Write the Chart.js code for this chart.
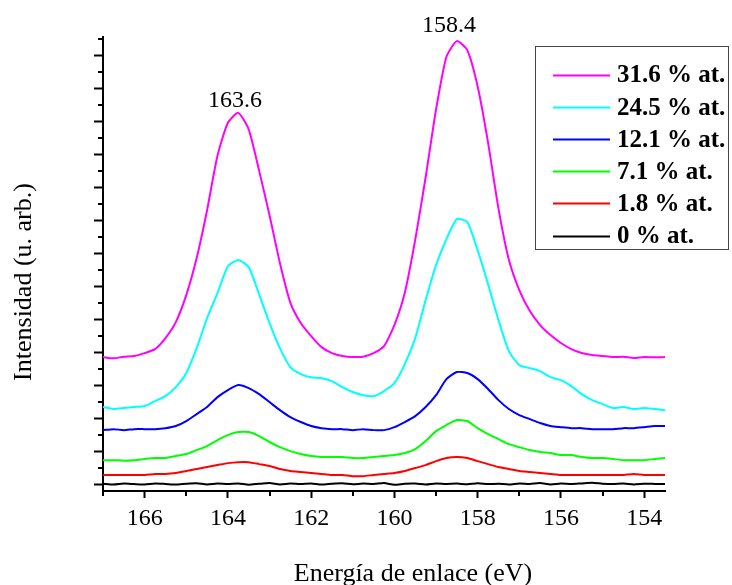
<!DOCTYPE html>
<html lang="es">
<head>
    <meta charset="UTF-8">
    <title>Espectros XPS</title>
    <style>
        body {
            margin: 0;
            background-color: #fff;
        }
        #chart {
            display: block;
        }
    </style>
</head>
<body>

<canvas id="chart" width="732" height="585"></canvas>

<script src="https://cdn.jsdelivr.net/npm/chart.js"></script>
<script>
    // binding energy (eV), one point every 0.25 eV
    const energy = [167.00, 166.75, 166.50, 166.25, 166.00, 165.75, 165.50, 165.25, 165.00, 164.75,
        164.50, 164.25, 164.00, 163.75, 163.50, 163.25, 163.00, 162.75, 162.50, 162.25,
        162.00, 161.75, 161.50, 161.25, 161.00, 160.75, 160.50, 160.25, 160.00, 159.75,
        159.50, 159.25, 159.00, 158.75, 158.50, 158.25, 158.00, 157.75, 157.50, 157.25,
        157.00, 156.75, 156.50, 156.25, 156.00, 155.75, 155.50, 155.25, 155.00, 154.75,
        154.50, 154.25, 154.00, 153.75, 153.50];

    const labels = ['31.6 % at.', '24.5 % at.', '12.1 % at.', '7.1 % at.', '1.8 % at.', '0 % at.'];
    const colors = ['#ff00ff', '#00ffff', '#0000ff', '#00ff00', '#ff0000', '#000000'];

    const s316 = [7.70, 7.62, 7.72, 7.76, 7.94, 8.18, 8.85, 9.82, 11.45, 13.70,
        16.60, 19.90, 21.90, 22.50, 21.50, 19.00, 16.30, 13.40, 11.00, 9.76,
        8.97, 8.30, 7.94, 7.76, 7.70, 7.72, 7.94, 8.36, 9.64, 11.60,
        14.80, 18.60, 22.70, 25.90, 26.85, 26.30, 24.10, 20.70, 16.70, 13.60,
        11.76, 10.50, 9.64, 9.03, 8.55, 8.18, 7.94, 7.82, 7.76, 7.70,
        7.72, 7.64, 7.70, 7.68, 7.70];
    const s245 = [4.67, 4.55, 4.61, 4.67, 4.73, 5.03, 5.33, 5.88, 6.73, 8.24,
        10.06, 11.58, 13.20, 13.58, 13.15, 11.50, 9.76, 8.24, 7.09, 6.67,
        6.48, 6.42, 6.24, 5.88, 5.58, 5.39, 5.33, 5.64, 6.12, 7.27,
        8.85, 11.15, 13.27, 14.85, 16.06, 15.88, 14.18, 12.12, 9.94, 8.06,
        7.21, 7.03, 6.85, 6.48, 6.30, 5.94, 5.45, 5.09, 4.85, 4.61,
        4.67, 4.55, 4.61, 4.55, 4.48];
    const s121 = [3.27, 3.33, 3.27, 3.33, 3.33, 3.33, 3.39, 3.52, 3.82, 4.24,
        4.67, 5.27, 5.70, 6.00, 5.82, 5.45, 4.97, 4.48, 4.06, 3.76,
        3.52, 3.39, 3.33, 3.33, 3.27, 3.33, 3.27, 3.27, 3.45, 3.76,
        4.12, 4.67, 5.39, 6.36, 6.79, 6.73, 6.36, 5.76, 5.09, 4.55,
        4.18, 3.94, 3.70, 3.52, 3.45, 3.39, 3.39, 3.33, 3.33, 3.33,
        3.39, 3.39, 3.45, 3.52, 3.52];
    const s71 = [1.45, 1.45, 1.42, 1.45, 1.52, 1.58, 1.58, 1.70, 1.82, 2.06,
        2.30, 2.67, 2.97, 3.15, 3.15, 2.91, 2.55, 2.24, 2.00, 1.82,
        1.70, 1.64, 1.64, 1.64, 1.58, 1.58, 1.64, 1.70, 1.76, 1.88,
        2.12, 2.61, 3.21, 3.58, 3.88, 3.82, 3.39, 3.03, 2.73, 2.42,
        2.24, 2.06, 1.94, 1.88, 1.76, 1.76, 1.64, 1.58, 1.58, 1.52,
        1.45, 1.45, 1.45, 1.52, 1.58];
    const s18 = [0.55, 0.55, 0.55, 0.55, 0.55, 0.61, 0.61, 0.67, 0.79, 0.91,
        1.03, 1.15, 1.27, 1.33, 1.33, 1.21, 1.09, 0.91, 0.79, 0.73,
        0.67, 0.61, 0.55, 0.55, 0.48, 0.48, 0.55, 0.61, 0.67, 0.79,
        0.97, 1.15, 1.39, 1.58, 1.64, 1.58, 1.39, 1.21, 1.03, 0.91,
        0.79, 0.73, 0.67, 0.61, 0.55, 0.55, 0.55, 0.55, 0.55, 0.55,
        0.55, 0.61, 0.55, 0.55, 0.55];
    const s0 = [0.02, -0.03, 0.03, 0.00, -0.02, 0.04, 0.01, -0.03, 0.02, 0.05,
        -0.02, 0.03, 0.00, 0.04, -0.04, 0.02, 0.06, -0.02, 0.03, 0.00,
        0.04, -0.03, 0.02, 0.05, -0.01, 0.03, 0.00, 0.06, -0.04, 0.02,
        0.03, -0.02, 0.04, 0.01, 0.03, -0.01, 0.05, 0.00, 0.02, -0.03,
        0.04, 0.01, 0.06, -0.02, 0.03, 0.00, 0.04, 0.08, 0.02, 0.00,
        0.03, -0.02, 0.02, 0.01, 0.00];
    const series = [s316, s245, s121, s71, s18, s0];

    const xMajorTicks = [166, 164, 162, 160, 158, 156, 154];
    const xMinorTicks = [167, 165, 163, 161, 159, 157, 155];
    const yMajorTicks = [0, 2, 4, 6, 8, 10, 12, 14, 16, 18, 20, 22, 24, 26];
    const yMinorTicks = [1, 3, 5, 7, 9, 11, 13, 15, 17, 19, 21, 23, 25, 27];

    const peakLabels = ['163.6', '158.4'];
    const peakAt = [[163.83, 22.85], [158.69, 27.4]];

    const FONT = "'Liberation Serif', 'Times New Roman', serif";

    // minor ticks, axis titles, peak labels and the boxed legend
    const decor = {
        id: 'decor',
        afterDraw(chart) {
            const ctx = chart.ctx;
            const xs = chart.scales.x;
            const ys = chart.scales.y;
            const area = chart.chartArea;

            ctx.save();
            ctx.strokeStyle = '#000';
            ctx.lineWidth = 2;
            xMinorTicks.forEach(v => {
                const px = Math.round(xs.getPixelForValue(v));
                ctx.beginPath();
                ctx.moveTo(px, area.bottom);
                ctx.lineTo(px, area.bottom + 5);
                ctx.stroke();
            });
            yMinorTicks.forEach(v => {
                const py = Math.round(ys.getPixelForValue(v));
                ctx.beginPath();
                ctx.moveTo(area.left - 5, py);
                ctx.lineTo(area.left, py);
                ctx.stroke();
            });

            ctx.fillStyle = '#000';
            ctx.font = '26px ' + FONT;
            ctx.textAlign = 'center';
            ctx.textBaseline = 'alphabetic';
            ctx.fillText('Energía de enlace (eV)', 413, 581);

            ctx.save();
            ctx.translate(24, 282);
            ctx.rotate(-Math.PI / 2);
            ctx.textBaseline = 'middle';
            ctx.fillText('Intensidad (u. arb.)', 0, 0);
            ctx.restore();

            ctx.font = '24px ' + FONT;
            peakLabels.forEach((t, i) => {
                ctx.fillText(t, xs.getPixelForValue(peakAt[i][0]), ys.getPixelForValue(peakAt[i][1]));
            });

            // legend box
            ctx.lineWidth = 1;
            ctx.strokeStyle = '#444';
            ctx.strokeRect(535.5, 46.5, 193, 203);
            ctx.font = 'bold 25px ' + FONT;
            ctx.textAlign = 'left';
            ctx.textBaseline = 'middle';
            chart.data.datasets.forEach((ds, i) => {
                const y = 75 + i * 32.1;
                ctx.strokeStyle = ds.borderColor;
                ctx.lineWidth = 2;
                ctx.beginPath();
                ctx.moveTo(553, Math.round(y) + 0.5);
                ctx.lineTo(610, Math.round(y) + 0.5);
                ctx.stroke();
                ctx.fillStyle = '#000';
                ctx.fillText(ds.label, 617, y + 1);
            });
            ctx.restore();
        }
    };

    const datasets = series.map((s, i) => ({
        label: labels[i],
        data: energy.map((e, j) => ({x: e, y: s[j]})),
        borderColor: colors[i],
        borderWidth: 2,
        pointRadius: 0,
        fill: false,
        tension: 0.2,
        clip: false
    }));

    new Chart(document.getElementById('chart'), {
        type: 'line',
        data: {datasets: datasets},
        plugins: [decor],
        options: {
            responsive: false,
            animation: false,
            layout: {padding: {left: 0, top: 37, right: 67, bottom: 0}},
            plugins: {
                legend: {display: false},
                tooltip: {enabled: false}
            },
            scales: {
                x: {
                    type: 'linear',
                    reverse: true,
                    min: 153.5,
                    max: 167,
                    afterBuildTicks: s => { s.ticks = xMajorTicks.map(v => ({value: v})); },
                    afterFit: s => { s.height = 94; },
                    grid: {drawOnChartArea: false, drawTicks: true, tickLength: 7, tickWidth: 2, tickColor: '#000'},
                    border: {display: true, color: '#000', width: 2},
                    ticks: {
                        color: '#000',
                        font: {family: FONT, size: 24},
                        padding: 6,
                        maxRotation: 0,
                        autoSkip: false
                    }
                },
                y: {
                    type: 'linear',
                    min: -0.42,
                    max: 27.1,
                    afterBuildTicks: s => { s.ticks = yMajorTicks.map(v => ({value: v})); },
                    afterFit: s => { s.width = 103; },
                    grid: {drawOnChartArea: false, drawTicks: true, tickLength: 9, tickWidth: 2, tickColor: '#000'},
                    border: {display: true, color: '#000', width: 2},
                    ticks: {display: false}
                }
            }
        }
    });
</script>

</body>
</html>
